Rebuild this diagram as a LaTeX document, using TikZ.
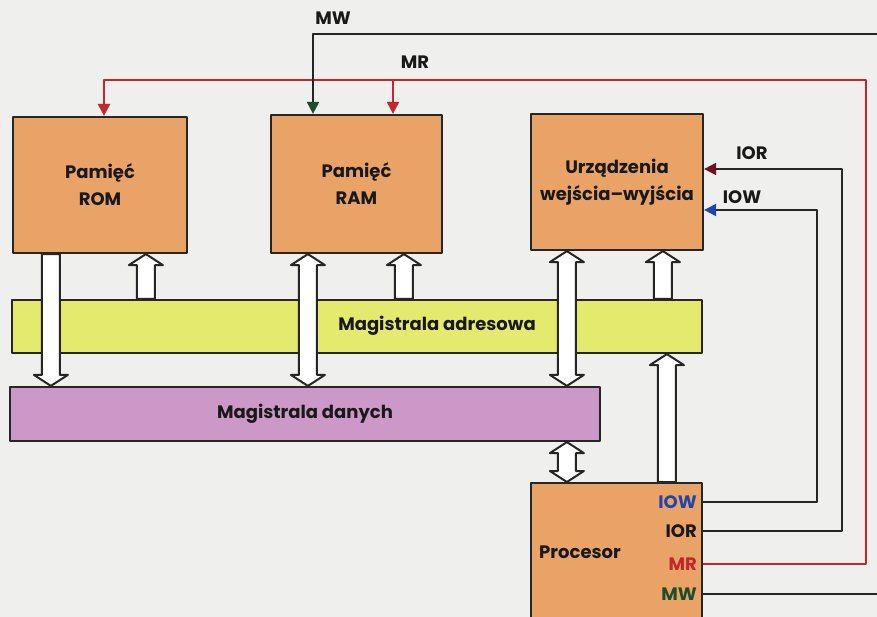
\documentclass[tikz,border=0pt]{standalone}
\usepackage{fontspec}
\setmainfont{Poppins}
\usetikzlibrary{positioning, arrows.meta, calc}

\definecolor{pagegray}{HTML}{EFEFED}
\definecolor{unitorange}{HTML}{E9A366}
\definecolor{busyellow}{HTML}{E4EA6E}
\definecolor{buspurple}{HTML}{CB98C8}
\definecolor{mrred}{HTML}{C4262E}
\definecolor{iorred}{HTML}{6E1424}
\definecolor{iowblue}{HTML}{1F45A8}
\definecolor{mwgreen}{HTML}{1E4D2B}

% hollow bus arrows (vertical): tail, tip
\newcommand{\busarrow}[2]{%
  \draw[busarr] let \p1=#1, \p2=#2, \n1={ifthenelse(\y2>\y1,1,-1)} in
    (\x1-9pt,\y1) -- (\x1-9pt,{\y2-(\n1)*11pt}) -- (\x1-17pt,{\y2-(\n1)*11pt}) --
    (\x1,\y2) -- (\x1+17pt,{\y2-(\n1)*11pt}) -- (\x1+9pt,{\y2-(\n1)*11pt}) --
    (\x1+9pt,\y1) -- cycle;}
\newcommand{\busdarrow}[2]{%
  \draw[busarr] let \p1=#1, \p2=#2, \n1={ifthenelse(\y2>\y1,1,-1)} in
    (\x1,\y1) -- (\x1-17pt,{\y1+(\n1)*11pt}) -- (\x1-9pt,{\y1+(\n1)*11pt}) --
    (\x1-9pt,{\y2-(\n1)*11pt}) -- (\x1-17pt,{\y2-(\n1)*11pt}) -- (\x1,\y2) --
    (\x1+17pt,{\y2-(\n1)*11pt}) -- (\x1+9pt,{\y2-(\n1)*11pt}) --
    (\x1+9pt,{\y1+(\n1)*11pt}) -- (\x1+17pt,{\y1+(\n1)*11pt}) -- cycle;}

\begin{document}
\begin{tikzpicture}[x=1pt, y=-1pt, line join=round]
				\tikzstyle{unit}=[draw=black!85, line width=2.2pt, fill=unitorange, align=center, inner sep=0pt, text=black!90, font=\fontsize{18}{27}\selectfont\bfseries]
				\tikzstyle{bus}=[draw=black!85, line width=2.2pt, inner sep=0pt, text=black!90, font=\fontsize{18}{22}\selectfont\bfseries]
				\tikzstyle{busarr}=[draw=black!85, line width=2pt, fill=white]
				\tikzstyle{sig}=[line width=2pt, draw=black!85]
				\tikzstyle{lbl}=[inner sep=0pt, text=black!90, font=\fontsize{18}{22}\selectfont\bfseries]
				\tikzstyle{tip}=[-{Triangle[length=12pt, width=12pt, color=#1]}]
				
				% Page
				\fill[pagegray] (0,0) rectangle (877,617);
				\clip (0,0) rectangle (877,617);
				
				% Units
				\node[unit, minimum width=174pt, minimum height=136pt] (rom) at (100,185) {Pamięć\\ROM};
				\node[unit, minimum width=171pt, minimum height=138pt] (ram) at (356.5,184) {Pamięć\\RAM};
				\node[unit, minimum width=172pt, minimum height=136pt] (io) at (617,182) {Urządzenia\\wejścia–wyjścia};
				\node[unit, minimum width=171pt, minimum height=170pt, anchor=north] (cpu) at (616.5,482) {};
				\node[lbl] (cpulbl) at (580,552) {Procesor};
				
				% Buses
				\node[bus, fill=busyellow, minimum width=690pt, minimum height=53pt] (addr) at (357,326.5) {};
				\node[bus, draw=none] (addrlbl) at (437,326) {Magistrala adresowa};
				\node[bus, fill=buspurple, minimum width=590pt, minimum height=54pt] (data) at (305,414) {Magistrala danych};
				
				% Bus arrows
				\busarrow{([xshift=39pt]rom.south west)}{(data.north)}
				\busarrow{([xshift=135pt]addr.north west)}{(rom.south)}
				\busdarrow{([xshift=38pt]ram.south west)}{(data.north)}
				\busarrow{([xshift=393pt]addr.north west)}{(ram.south)}
				\busdarrow{([xshift=37pt]io.south west)}{(data.north)}
				\busarrow{([xshift=652pt]addr.north west)}{(io.south)}
				\busdarrow{([xshift=37pt]cpu.north west)}{(data.south)}
				\busarrow{([xshift=137pt]cpu.north west)}{(addr.south)}
				
				% Processor signals
				\foreach \name/\txt/\y/\col in {iow/IOW/502/iowblue, ior/IOR/531/black!90, mr/MR/564/mrred, mw/MW/594/mwgreen}
				\node[lbl, text=\col, anchor=east] (\name) at (697,\y) {\txt};
				
				\coordinate (iowup) at (817,210);
				\coordinate (iorup) at (842,169);
				\coordinate (mrup) at (866,80);
				\coordinate (mrrom) at (104,80);
				\coordinate (mrram) at (393,80);
				\coordinate (mwout) at (885,594);
				\coordinate (mwin) at (885,34);
				\coordinate (mwram) at (313,34);
				
				\draw[sig, tip=iowblue] (cpu.east |- iow) -| (iowup) -- (io.east |- iowup);
				\draw[sig, tip=iorred] (cpu.east |- ior) -| (iorup) -- (io.east |- iorup);
				\draw[sig, draw=mrred, tip=mrred] (cpu.east |- mr) -| (mrup) -- (mrrom) -- (rom.north -| mrrom);
				\draw[sig, draw=mrred, tip=mrred] (mrram) -- (ram.north -| mrram);
				\draw[sig] (cpu.east |- mw) -- (mwout);
				\draw[sig, tip=mwgreen] (mwin) -- (mwram) -- (ram.north -| mwram);
				
				% Signal names
				\node[lbl] (mwname) at (333,18) {MW};
				\node[lbl] (mrname) at (415,62) {MR};
				\node[lbl] (iorname) at (752,153) {IOR};
				\node[lbl] (iowname) at (742,197) {IOW};
			\end{tikzpicture}
\end{document}
